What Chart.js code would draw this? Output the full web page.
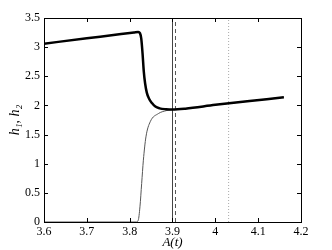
<!DOCTYPE html>
<html>
<head>
<meta charset="utf-8">
<script src="https://cdn.jsdelivr.net/npm/chart.js@4"></script>
<style>
body { margin: 0; background: #fff; font-family: "Liberation Serif", serif; }
</style>
</head>
<body>
<canvas id="chart" width="332" height="250"></canvas>
<script>
// thick curve (upper branch)
const upperX = [3.6, 3.7, 3.78, 3.81, 3.82, 3.824, 3.827, 3.830, 3.833, 3.836, 3.840, 3.845, 3.852, 3.86, 3.87, 3.885, 3.9, 3.93, 4.0, 4.08, 4.16];
const upperY = [3.06, 3.151, 3.224, 3.251, 3.26, 3.24, 3.15, 2.90, 2.58, 2.38, 2.22, 2.12, 2.04, 1.98, 1.95, 1.935, 1.93, 1.945, 2.01, 2.075, 2.14];

// thin curve (lower branch)
const lowerX = [3.6, 3.7, 3.815, 3.82, 3.824, 3.828, 3.832, 3.838, 3.848, 3.867, 3.885, 3.9, 3.93, 4.0, 4.08, 4.16];
const lowerY = [0, 0, 0, 0.03, 0.26, 0.66, 1.06, 1.46, 1.72, 1.86, 1.91, 1.93, 1.945, 2.01, 2.075, 2.14];

// vertical marker lines
const solidLineX = 3.9;
const dashedLineX = 3.907;
const dottedLineX = 4.031;

const xTicks = [3.6, 3.7, 3.8, 3.9, 4.0, 4.1, 4.2];
const yTicks = [0, 0.5, 1, 1.5, 2, 2.5, 3, 3.5];

const serif = "'Liberation Serif', 'Times New Roman', serif";
Chart.defaults.font.family = serif;
Chart.defaults.font.size = 12;
Chart.defaults.color = "#000";

function toPoints(xs, ys) {
    return xs.map((x, i) => ({ x: x, y: ys[i] }));
}

function vLine(x) {
    return [{ x: x, y: yTicks[0] }, { x: x, y: yTicks[yTicks.length - 1] }];
}

const boxPlugin = {
    id: "box",
    afterDraw(chart) {
        const { ctx, chartArea: { left, right, top, bottom }, scales: { x, y } } = chart;
        ctx.save();
        ctx.strokeStyle = "#000";
        ctx.lineWidth = 1;
        ctx.strokeRect(Math.round(left) + 0.5, Math.round(top) + 0.5, Math.round(right - left), Math.round(bottom - top));
        ctx.beginPath();
        xTicks.forEach(v => {
            const px = Math.round(x.getPixelForValue(v)) + 0.5;
            ctx.moveTo(px, bottom); ctx.lineTo(px, bottom - 4);
            ctx.moveTo(px, top); ctx.lineTo(px, top + 4);
        });
        yTicks.forEach(v => {
            const py = Math.round(y.getPixelForValue(v)) + 0.5;
            ctx.moveTo(left, py); ctx.lineTo(left + 4, py);
            ctx.moveTo(right, py); ctx.lineTo(right - 4, py);
        });
        ctx.stroke();
        ctx.restore();
    }
};

function drawChart() {
    new Chart(document.getElementById("chart"), {
        type: "line",
        data: {
            datasets: [
                {
                    data: toPoints(upperX, upperY),
                    borderColor: "#000",
                    borderWidth: 2.5,
                    cubicInterpolationMode: "monotone"
                },
                {
                    data: toPoints(lowerX, lowerY),
                    borderColor: "#555",
                    borderWidth: 1,
                    cubicInterpolationMode: "monotone"
                },
                {
                    data: vLine(solidLineX),
                    borderColor: "#444",
                    borderWidth: 1
                },
                {
                    data: vLine(dashedLineX),
                    borderColor: "#555",
                    borderWidth: 1,
                    borderDash: [4, 3]
                },
                {
                    data: vLine(dottedLineX),
                    borderColor: "#aaa",
                    borderWidth: 1,
                    borderDash: [1, 2]
                }
            ]
        },
        options: {
            responsive: false,
            animation: false,
            elements: { point: { radius: 0 } },
            layout: { padding: { left: 0, right: 31, top: 18, bottom: 0 } },
            plugins: { legend: { display: false }, tooltip: { enabled: false } },
            scales: {
                x: {
                    type: "linear",
                    min: 3.6,
                    max: 4.2,
                    afterFit: s => { s.height = 28; },
                    afterBuildTicks: s => { s.ticks = xTicks.map(v => ({ value: v })); },
                    grid: { display: false, drawTicks: false },
                    border: { display: false },
                    ticks: { padding: 3, autoSkip: false, maxRotation: 0, font: { family: serif, size: 12 }, callback: v => String(+v.toFixed(2)) },
                    title: { display: true, text: "A(t)", font: { family: serif, style: "italic", size: 13 }, padding: { top: 0, bottom: 0 } }
                },
                y: {
                    min: 0,
                    max: 3.5,
                    afterFit: s => { s.width = 44; },
                    afterBuildTicks: s => { s.ticks = yTicks.map(v => ({ value: v })); },
                    grid: { display: false, drawTicks: false },
                    border: { display: false },
                    ticks: { padding: 4, autoSkip: false, font: { family: serif, size: 12 }, callback: v => String(+v.toFixed(2)) },
                    title: { display: true, text: "h₁, h₂", font: { family: serif, style: "italic", size: 14 }, padding: { top: 7, bottom: 0 } }
                }
            }
        },
        plugins: [boxPlugin]
    });
}

Promise.all([
    document.fonts.load("12px 'Liberation Serif'"),
    document.fonts.load("italic 12px 'Liberation Serif'")
]).then(drawChart, drawChart);
</script>
</body>
</html>
